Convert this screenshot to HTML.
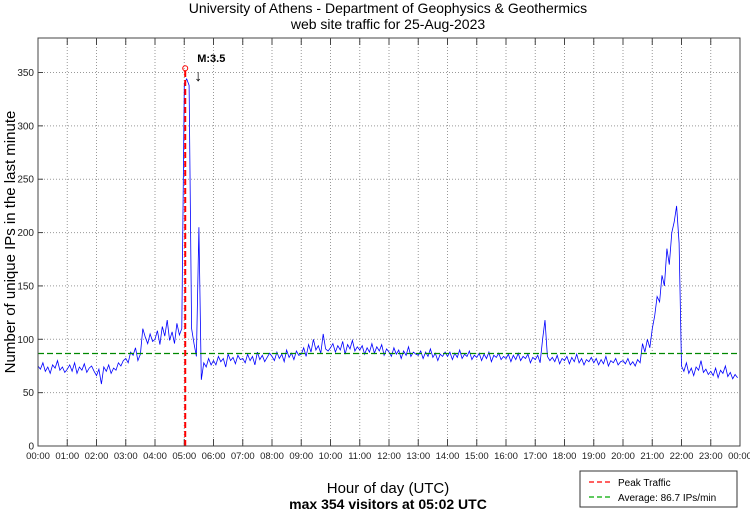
<!DOCTYPE html>
<html><head><meta charset="utf-8"><style>
body{margin:0;background:#fff}
svg{display:block;font-family:"Liberation Sans",sans-serif}
</style></head><body>
<svg id="c" width="750" height="511">
<text x="388" y="13" font-size="14" text-anchor="middle">University of Athens - Department of Geophysics &amp; Geothermics</text>
<text x="388" y="29" font-size="14" text-anchor="middle">web site traffic for 25-Aug-2023</text>
<text x="388" y="493" font-size="15" text-anchor="middle">Hour of day (UTC)</text>
<text x="388" y="509" font-size="14" font-weight="bold" text-anchor="middle">max 354 visitors at 05:02 UTC</text>
<text transform="translate(15,242) rotate(-90)" font-size="15" text-anchor="middle">Number of unique IPs in the last minute</text>
<g id="grid"></g><g id="marks"></g>
<rect x="38" y="38" width="702" height="408" fill="none" stroke="#444" stroke-width="1"/>
<g>
<rect x="580" y="471" width="157" height="36" fill="#fff" stroke="#333"/>
<line x1="589" y1="482" x2="613" y2="482" stroke="#ff0000" stroke-width="1.3" stroke-dasharray="5,3"/>
<text x="618" y="486" font-size="10">Peak Traffic</text>
<line x1="589" y1="497" x2="613" y2="497" stroke="#00aa00" stroke-width="1.3" stroke-dasharray="5,3"/>
<text x="618" y="501" font-size="10">Average: 86.7 IPs/min</text>
</g>
</svg>
<script>
const yTicks=[0,50,100,150,200,250,300,350];
const hourLabels=["00:00","01:00","02:00","03:00","04:00","05:00","06:00","07:00","08:00","09:00","10:00","11:00","12:00","13:00","14:00","15:00","16:00","17:00","18:00","19:00","20:00","21:00","22:00","23:00","00:00"];
const sampleStepMin=5;
const visitors=[
75,72,78,70,74,68,76,73,80,71,74,69,
72,76,70,78,68,74,71,77,69,73,75,70,
66,72,58,74,70,76,68,73,71,78,75,80,
82,78,88,85,92,80,86,110,102,96,105,98,
100,108,95,112,103,118,99,107,96,115,104,110,
340,344,338,110,96,84,205,62,78,74,82,76,
80,76,84,79,82,74,86,80,83,77,85,81,
82,78,86,80,84,76,88,81,85,79,83,87,
84,80,88,82,86,79,90,83,87,81,89,85,
86,92,84,95,88,100,90,94,87,105,91,89,
92,96,88,94,90,98,86,95,91,99,89,93,
90,94,86,92,88,96,87,93,89,95,85,91,
88,84,92,86,90,82,89,85,93,84,88,86,
85,89,82,88,84,91,83,87,80,86,84,88,
84,88,81,87,83,90,82,86,84,89,81,85,
83,87,80,86,82,88,79,85,83,87,81,84,
82,86,79,85,81,87,80,84,82,86,78,83,
81,85,78,100,118,84,80,83,79,85,77,82,
80,84,77,83,79,86,78,82,76,81,79,83,
78,82,76,81,77,84,75,80,78,82,76,79,
80,77,82,76,79,75,81,78,96,88,100,92,
110,122,140,135,160,150,185,170,200,210,225,190,
75,70,78,68,73,66,74,71,80,69,72,67,
70,66,73,64,71,68,75,65,69,63,67,64];
const peakMinute=302, peakValue=354, averageValue=86.7;
const X0=38,X1=740,Y0=446,PX_PER_UNIT=373.5/350;
const xs=m=>X0+m/1440*(X1-X0);
const ys=v=>Y0-v*PX_PER_UNIT;
const NS="http://www.w3.org/2000/svg";
function mk(t,a,p){const e=document.createElementNS(NS,t);for(const k in a)e.setAttribute(k,a[k]);p.appendChild(e);return e;}
const g=document.getElementById('grid'),m=document.getElementById('marks');
yTicks.forEach(v=>{
 const y=ys(v);
 if(v>0){const l=mk('line',{x1:X0,x2:X1,y1:y,y2:y,stroke:'#999','stroke-dasharray':'1,2'},g);
 
 }
 mk('line',{x1:X0,x2:X0+5,y1:y,y2:y,stroke:'#444'},g);
 const t=mk('text',{x:X0-4,y:y+3.5,'font-size':10,'text-anchor':'end',fill:'#222'},g);t.textContent=v;
 
 
});
hourLabels.forEach((h,i)=>{
 const x=xs(i*60);
 if(i>0&&i<24){const l=mk('line',{x1:x,x2:x,y1:38,y2:Y0,stroke:'#999','stroke-dasharray':'1,2'},g);
 
 }
 mk('line',{x1:x,x2:x,y1:Y0,y2:Y0-7,stroke:'#444'},g);
 mk('line',{x1:x,x2:x,y1:38,y2:45,stroke:'#444'},g);
 const t=mk('text',{x:x,y:459,'font-size':9.5,'text-anchor':'middle',fill:'#222'},g);t.textContent=h;
 
 
});
const pts=visitors.map((v,i)=>xs(i*sampleStepMin).toFixed(1)+','+ys(v).toFixed(1)).join(' ');
const line=mk('polyline',{points:pts,fill:'none',stroke:'#0000ff','stroke-width':0.8},m);


const avg=mk('line',{x1:X0,x2:X1,y1:ys(averageValue),y2:ys(averageValue),stroke:'#008800','stroke-width':1.2,'stroke-dasharray':'6,3'},m);


const pk=mk('line',{x1:xs(peakMinute),x2:xs(peakMinute),y1:Y0,y2:ys(peakValue),stroke:'#ff0000','stroke-width':2,'stroke-dasharray':'6,3'},m);


const c=mk('circle',{cx:xs(peakMinute),cy:ys(peakValue),r:2.5,fill:'none',stroke:'#ff0000'},m);


const ann=mk('text',{x:xs(peakMinute)+12,y:ys(peakValue)-6,'font-size':11,'font-weight':'bold'},m);ann.textContent='M:3.5';


const ar=mk('text',{x:xs(peakMinute)+9,y:ys(peakValue)+13,'font-size':16},m);ar.textContent='↓';


</script>
</body></html>
